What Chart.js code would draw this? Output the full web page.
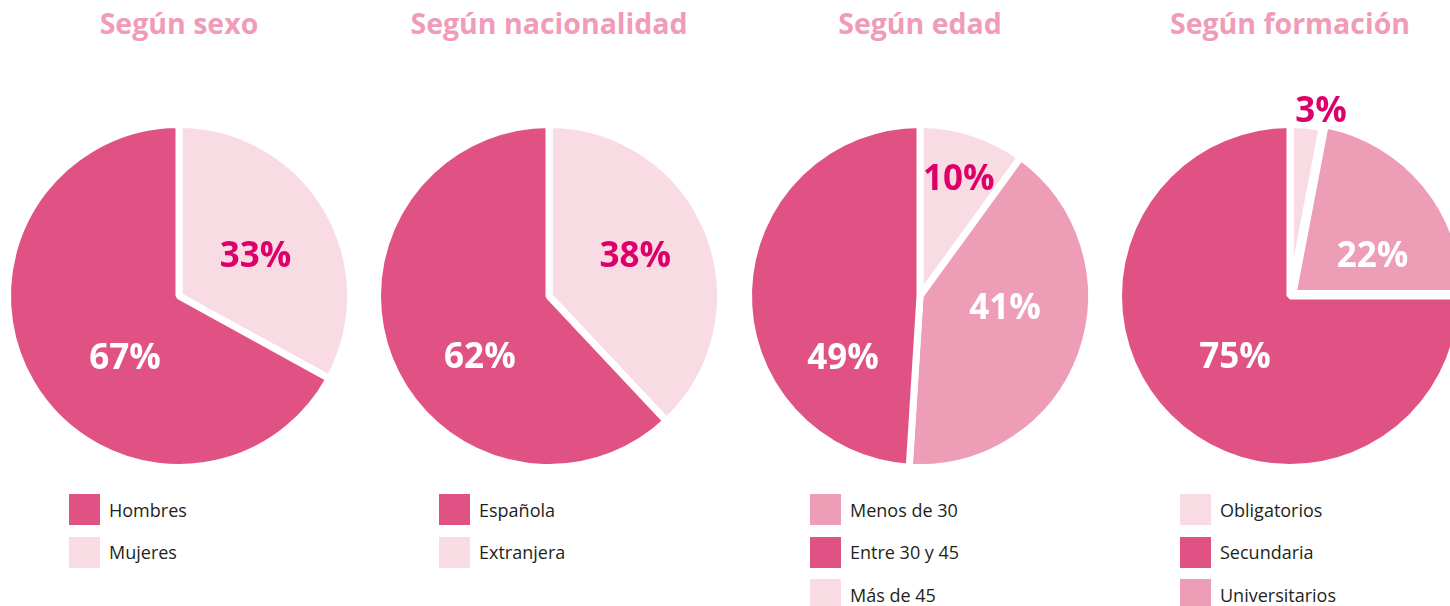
<!DOCTYPE html>
<html>
<head>
<meta charset="utf-8">
<script src="https://cdn.jsdelivr.net/npm/chart.js@4"></script>
<style>
  html, body { margin: 0; padding: 0; background: #fff; }
  body { width: 1450px; height: 606px; position: relative; overflow: hidden; font-family: "Open Sans", sans-serif; }
  .titulo { position: absolute; top: 4px; width: 370px; text-align: center; font-weight: 700; font-size: 28.5px; color: #f09bb8; }
  .grafico { position: absolute; top: 76px; }
  .leyenda { position: absolute; top: 494px; }
  .item { height: 31px; margin-bottom: 11.5px; display: flex; align-items: center; font-size: 18px; color: #231f20; }
  .caja { width: 31px; height: 31px; margin-right: 9px; }
</style>
</head>
<body>
<script>
// datos
const sexoEtiquetas = ['Hombres', 'Mujeres'];
const sexoValores = [67, 33];

const nacionalidadEtiquetas = ['Española', 'Extranjera'];
const nacionalidadValores = [62, 38];

const edadEtiquetas = ['Menos de 30', 'Entre 30 y 45', 'Más de 45'];
const edadValores = [41, 49, 10];

const formacionEtiquetas = ['Obligatorios', 'Secundaria', 'Universitarios'];
const formacionValores = [3, 75, 22];

const OSCURO = '#e15284';
const MEDIO = '#ed9db5';
const CLARO = '#f8dbe3';

// cada gráfico: orden de las porciones en sentido horario desde arriba
const graficos = [
    { titulo: 'Según sexo', etiquetas: sexoEtiquetas, valores: sexoValores,
      colores: [OSCURO, CLARO], orden: [1, 0],
      rotulos: [[61, 0.51], [222, 0.47]], desplazar: [] },
    { titulo: 'Según nacionalidad', etiquetas: nacionalidadEtiquetas, valores: nacionalidadValores,
      colores: [OSCURO, CLARO], orden: [1, 0],
      rotulos: [[64, 0.56], [229.5, 0.53]], desplazar: [] },
    { titulo: 'Según edad', etiquetas: edadEtiquetas, valores: edadValores,
      colores: [MEDIO, OSCURO, CLARO], orden: [2, 0, 1],
      rotulos: [[18, 0.73], [97, 0.5], [232, 0.57]], desplazar: [] },
    { titulo: 'Según formación', etiquetas: formacionEtiquetas, valores: formacionValores,
      colores: [CLARO, OSCURO, MEDIO], orden: [0, 2, 1],
      rotulos: [[9.4, 1.105], [63, 0.54], [223, 0.47]], desplazar: [2] }
];

const centros = [179, 549, 920, 1290];

// rotulos con porcentaje sobre cada porcion
const pluginRotulos = {
    id: 'rotulos',
    afterDatasetsDraw(chart, args, opts) {
        const ctx = chart.ctx;
        const meta = chart.getDatasetMeta(0);
        ctx.save();
        ctx.font = '700 35px "Open Sans"';
        ctx.textAlign = 'center';
        ctx.textBaseline = 'middle';
        meta.data.forEach((arc, i) => {
            const p = arc.getProps(['x', 'y', 'outerRadius']);
            const [grados, frac] = opts.posiciones[i];
            const a = (grados - 90) * Math.PI / 180;
            const r = p.outerRadius * frac;
            const color = chart.data.datasets[0].backgroundColor[i];
            ctx.fillStyle = color === CLARO ? '#dd006b' : '#ffffff';
            ctx.fillText(chart.data.datasets[0].data[i] + '%', p.x + Math.cos(a) * r, p.y + Math.sin(a) * r + 3);
        });
        ctx.restore();
    }
};

graficos.forEach((g, n) => {
    const cx = centros[n];

    const titulo = document.createElement('div');
    titulo.className = 'titulo';
    titulo.style.left = (cx - 185) + 'px';
    titulo.textContent = g.titulo;
    document.body.appendChild(titulo);

    const canvas = document.createElement('canvas');
    canvas.className = 'grafico';
    canvas.width = 360;
    canvas.height = 400;
    canvas.style.left = (cx - 180) + 'px';
    document.body.appendChild(canvas);

    const leyenda = document.createElement('div');
    leyenda.className = 'leyenda';
    leyenda.style.left = (cx - 110) + 'px';
    g.etiquetas.forEach((et, i) => {
        const item = document.createElement('div');
        item.className = 'item';
        item.innerHTML = '<div class="caja" style="background:' + g.colores[i] + '"></div>' + et;
        leyenda.appendChild(item);
    });
    document.body.appendChild(leyenda);

    new Chart(canvas.getContext('2d'), {
        type: 'pie',
        data: {
            labels: g.orden.map(i => g.etiquetas[i]),
            datasets: [{
                data: g.orden.map(i => g.valores[i]),
                backgroundColor: g.orden.map(i => g.colores[i]),
                borderColor: '#ffffff',
                borderWidth: 7,
                offset: g.orden.map(i => g.desplazar.includes(i) ? 16 : 0)
            }]
        },
        options: {
            responsive: false,
            animation: false,
            radius: 171.5,
            layout: { padding: { top: 40 } },
            plugins: {
                legend: { display: false },
                tooltip: { enabled: false },
                rotulos: { posiciones: g.rotulos }
            }
        },
        plugins: [pluginRotulos]
    });
});
</script>
</body>
</html>
